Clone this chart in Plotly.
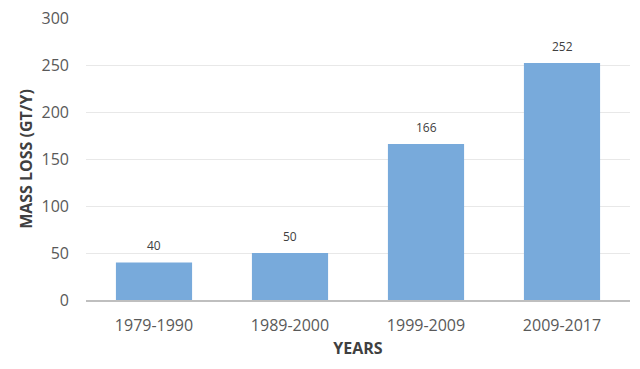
import plotly.graph_objects as go

categories = ["1979-1990", "1989-2000", "1999-2009", "2009-2017"]
mass_loss = [40, 50, 166, 252]
y_ticks = [0, 50, 100, 150, 200, 250, 300]

FONT = "Open Sans"

fig = go.Figure()
fig.add_trace(go.Bar(
    x=categories, y=mass_loss,
    marker=dict(color="#78AADB", line=dict(width=0)),
    width=0.56,
    hoverinfo="x+y",
))

for c, v in zip(categories, mass_loss):
    fig.add_annotation(x=c, y=v, text=str(v), showarrow=False,
                       yanchor="bottom", yshift=6,
                       font=dict(family=FONT, size=12, color="#404040"))

fig.update_layout(
    width=640, height=369,
    margin=dict(l=86, r=10, t=18, b=69),
    paper_bgcolor="white", plot_bgcolor="white",
    showlegend=False,
    font=dict(family=FONT, color="#595959"),
    xaxis=dict(
        type="category", automargin=False,
        tickfont=dict(family=FONT, size=16, color="#595959"),
        showgrid=False,
        showline=True, linecolor="#BFBFBF", linewidth=1.5,
        ticks="", ticklabelstandoff=10,
        title=dict(text="<b>YEARS</b>", standoff=8,
                   font=dict(family=FONT, size=16, color="#404040")),
    ),
    yaxis=dict(
        range=[0, 300], automargin=False,
        tickvals=y_ticks,
        tickfont=dict(family=FONT, size=16, color="#595959"),
        showgrid=True, gridcolor="#E8E8E8", gridwidth=1,
        zeroline=False, showline=False,
        ticks="", ticklabelstandoff=16,
        title=dict(text="<b>MASS LOSS (GT/Y)</b>", standoff=4,
                   font=dict(family=FONT, size=16, color="#404040")),
    ),
)

fig.write_html("out.html",
               config={"displayModeBar": False},
               post_script="document.body.style.margin='0';document.body.style.overflow='hidden';")
